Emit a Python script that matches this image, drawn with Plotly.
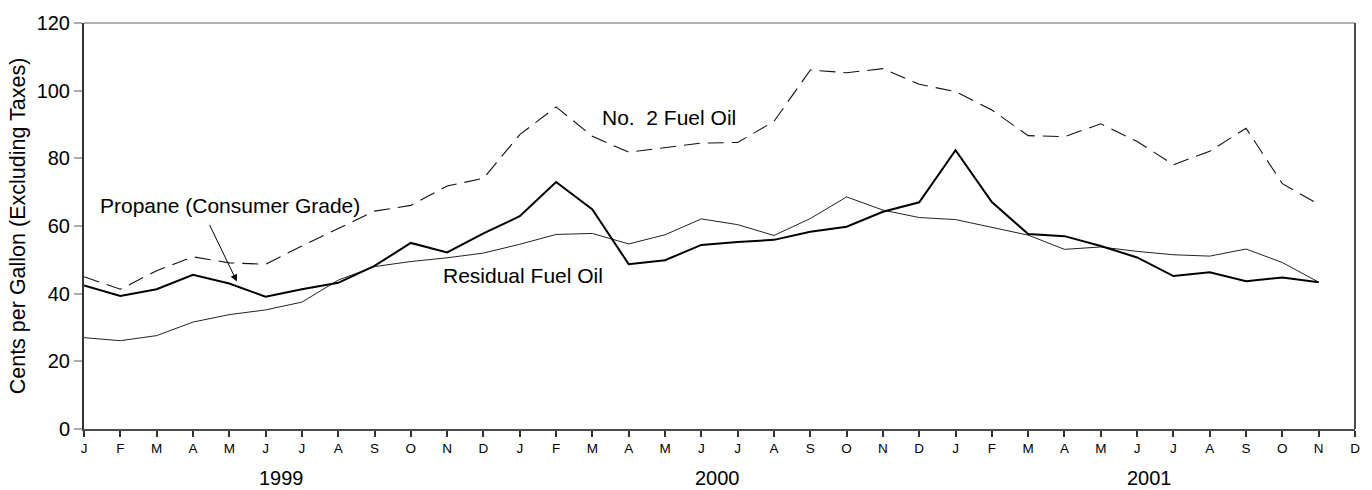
import plotly.graph_objects as go

# Monthly prices, January 1999 through November 2001 (cents per gallon, excluding taxes)
month_labels = ["J", "F", "M", "A", "M", "J", "J", "A", "S", "O", "N", "D"] * 3
years = ["1999", "2000", "2001"]

fuel_oil_no2 = [45.0, 41.3, 46.8, 50.9, 49.1, 48.7, 54.1, 59.3, 64.4, 66.1, 71.8, 74.1,
                87.0, 95.2, 86.5, 81.8, 83.2, 84.5, 84.7, 90.9, 106.1, 105.3, 106.5, 101.9,
                99.7, 94.3, 86.7, 86.4, 90.2, 85.0, 78.1, 82.1, 88.9, 72.5, 66.4]
propane = [42.4, 39.3, 41.3, 45.6, 43.0, 39.1, 41.3, 43.2, 48.2, 55.0, 52.2, 57.8,
           62.9, 73.0, 64.9, 48.7, 49.9, 54.4, 55.3, 55.9, 58.3, 59.8, 64.2, 67.0,
           82.4, 67.1, 57.6, 57.0, 54.1, 50.7, 45.2, 46.3, 43.7, 44.8, 43.4]
residual = [27.0, 26.1, 27.6, 31.6, 33.8, 35.2, 37.5, 44.0, 48.0, 49.5, 50.6, 52.0,
            54.6, 57.5, 57.8, 54.7, 57.4, 62.1, 60.4, 57.2, 62.2, 68.6, 64.7, 62.5,
            61.9, 59.7, 57.3, 53.1, 53.8, 52.5, 51.5, 51.1, 53.2, 49.2, 43.4]

FONT = "Liberation Sans, Arial, Helvetica, sans-serif"
x = list(range(len(propane)))

fig = go.Figure()
fig.add_trace(go.Scatter(x=x, y=fuel_oil_no2, mode="lines", name="No. 2 Fuel Oil",
                         line=dict(color="#111111", width=1.1, dash="16px,8px")))
fig.add_trace(go.Scatter(x=x, y=residual, mode="lines", name="Residual Fuel Oil",
                         line=dict(color="#222222", width=1.0)))
fig.add_trace(go.Scatter(x=x, y=propane, mode="lines", name="Propane (Consumer Grade)",
                         line=dict(color="#000000", width=2.0)))

annotations = [
    dict(x=16.1, y=92.0, text="No.&nbsp;&nbsp;2 Fuel Oil", showarrow=False,
         font=dict(size=21, color="#000")),
    dict(x=12.1, y=45.4, text="Residual Fuel Oil", showarrow=False,
         font=dict(size=21, color="#000")),
    dict(x=0.39, y=66.0, text="Propane (Consumer Grade)", showarrow=False, xanchor="left",
         font=dict(size=21, color="#000")),
    dict(x=4.21, y=43.6, text="", showarrow=True, ax=-28, ay=-58,
         arrowhead=2, arrowsize=1.4, arrowwidth=1, arrowcolor="#000"),
]
for i, yr in enumerate(years):
    annotations.append(dict(x=5.45 + 12 * i - (0.1 if i == 2 else 0), y=-0.12, xref="x", yref="paper",
                            text=yr, showarrow=False, yanchor="middle",
                            font=dict(size=20, color="#000")))

fig.update_layout(
    width=1372, height=490,
    margin=dict(l=84, r=15, t=21, b=61),
    paper_bgcolor="white", plot_bgcolor="white",
    showlegend=False,
    font=dict(family=FONT, color="#000"),
    annotations=annotations,
    shapes=[
        dict(type="line", xref="paper", yref="paper", x0=0, x1=1, y0=1, y1=1,
             line=dict(color="#b0b0b0", width=2)),
        dict(type="line", xref="paper", yref="paper", x0=1, x1=1, y0=0, y1=1,
             line=dict(color="#4a4a4a", width=2)),
    ],
)
fig.update_xaxes(
    range=[0, 35], tickmode="array", tickvals=list(range(36)), ticktext=month_labels,
    showgrid=False, zeroline=False, showline=True, linecolor="#4a4a4a", linewidth=2,
    ticks="outside", ticklen=6, tickwidth=1.5, tickcolor="#333",
    tickfont=dict(size=13.5, family=FONT),
)
fig.update_yaxes(
    range=[0, 120], tickmode="array", tickvals=[0, 20, 40, 60, 80, 100, 120],
    showgrid=False, zeroline=False, showline=True, linecolor="#333", linewidth=2,
    ticks="outside", ticklen=8, tickwidth=1.5, tickcolor="#aaaaaa",
    tickfont=dict(size=20, family=FONT),
    title=dict(text="Cents per Gallon (Excluding Taxes)", font=dict(size=21.5, family=FONT),
               standoff=5),
)

fig.write_html("out.html")
